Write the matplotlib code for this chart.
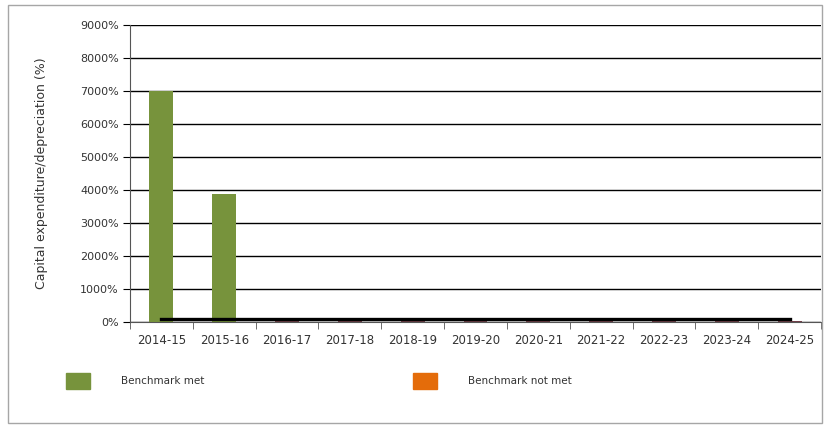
import numpy as np
import matplotlib.pyplot as plt
from matplotlib.patches import Patch, Rectangle

# Datos
years = ['2014-15', '2015-16', '2016-17', '2017-18', '2018-19', '2019-20',
         '2020-21', '2021-22', '2022-23', '2023-24', '2024-25']
met = [7000, 3880, 0, 0, 0, 0, 0, 0, 0, 0, 0]
not_met = [0, 0, 40, 45, 50, 50, 50, 50, 50, 30, 20]
benchmark = [100] * len(years)

GREEN = '#77933C'
ORANGE = '#E46C0A'
MAROON = '#5B1F2A'
TXT = '#333333'

plt.rcParams['font.family'] = ['DejaVu Sans']

fig = plt.figure(figsize=(8.24, 4.25), dpi=100)
ax = fig.add_axes([130 / 824, 1 - 322 / 425, 691 / 824, 297 / 425])

x = np.arange(len(years))
ax.bar(x, met, width=0.38, color=GREEN, zorder=3)
ax.bar(x, not_met, width=0.38, color=MAROON, alpha=0.8, zorder=3)
ax.plot(x, benchmark, color='black', lw=2.4, zorder=4)

# Ejes estilo hoja de calculo
ax.set_xlim(-0.5, len(years) - 0.5)
ax.set_ylim(0, 9000)
ax.set_yticks(np.arange(0, 9001, 1000))
ax.set_yticklabels(['%d%%' % v for v in range(0, 9001, 1000)], fontsize=8,
                   color=TXT)
ax.set_xticks(x)
ax.set_xticklabels(years, fontsize=8.5, color=TXT)
ax.set_xticks(np.arange(-0.5, len(years), 1), minor=True)
ax.tick_params(axis='x', which='major', length=0, pad=9)
ax.tick_params(axis='x', which='minor', length=5, color='#555555')
ax.tick_params(axis='y', length=5, pad=3)
ax.yaxis.grid(True, color='black', lw=1)
ax.set_axisbelow(True)
for s in ['top', 'right']:
    ax.spines[s].set_visible(False)
ax.spines['left'].set_color('#555555')
ax.spines['bottom'].set_color('#555555')

ax.set_ylabel('Capital expenditure/depreciation (%)', fontsize=9,
              labelpad=23, color=TXT)

# Leyenda
handles = [Patch(color=GREEN), Patch(color=ORANGE)]
leg = fig.legend(handles, ['Benchmark met', 'Benchmark not met'], ncol=2,
                 loc='center left', bbox_to_anchor=(66 / 824, 1 - 381 / 425),
                 frameon=False, fontsize=7.5, handlelength=2.3,
                 handleheight=2.1, handletextpad=3.0, columnspacing=20,
                 borderpad=0, borderaxespad=0)
for t in leg.get_texts():
    t.set_color(TXT)

# Marco exterior
fig.patches.append(Rectangle((8 / 824, 2 / 425), 814 / 824, 418 / 425,
                             transform=fig.transFigure, fill=False,
                             edgecolor='#A6A6A6', lw=1))

fig.savefig('out.png', dpi=100)
